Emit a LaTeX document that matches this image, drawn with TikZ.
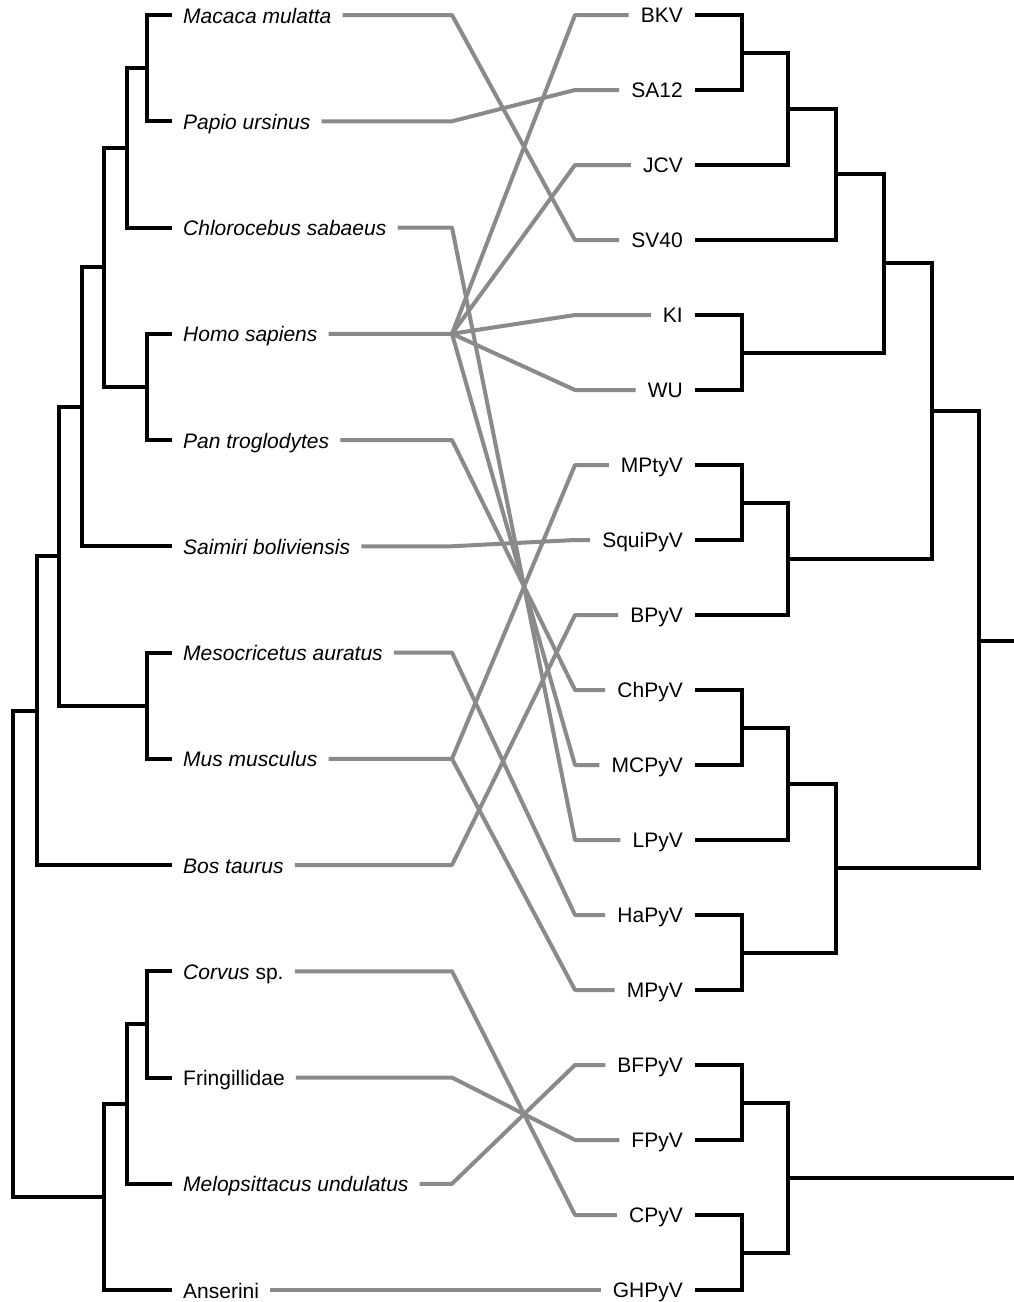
\documentclass[tikz,border=0pt]{standalone}
\usepackage{fontspec}
\setmainfont{Liberation Sans}
\definecolor{lk}{RGB}{138,138,138}
\begin{document}
\begin{tikzpicture}[x=1pt,y=-1pt,
  br/.style={line width=4pt, line join=miter, draw=black},
  con/.style={line width=4pt, draw=lk, line join=round},
  hostlab/.style={anchor=west, inner xsep=11pt, inner ysep=0pt, text height=16pt, text depth=0pt, font=\fontsize{21pt}{25pt}\selectfont\itshape},
  virlab/.style={anchor=east, inner xsep=12pt, inner ysep=0pt, text height=15pt, text depth=0pt, font=\fontsize{21pt}{25pt}\selectfont}]
\useasboundingbox (0,0) rectangle (1014,1302);
\fill[white] (0,0) rectangle (1014,1302);
% host labels
\node[hostlab] (mac) at (172,15) {Macaca mulatta};
\node[hostlab] (pap) at (172,121.25) {Papio ursinus};
\node[hostlab] (chl) at (172,227.5) {Chlorocebus sabaeus};
\node[hostlab] (hom) at (172,333.75) {Homo sapiens};
\node[hostlab] (pan) at (172,440) {Pan troglodytes};
\node[hostlab] (sai) at (172,546.25) {Saimiri boliviensis};
\node[hostlab] (mes) at (172,652.5) {Mesocricetus auratus};
\node[hostlab] (mus) at (172,758.75) {Mus musculus};
\node[hostlab] (bos) at (172,865) {Bos taurus};
\node[hostlab] (cor) at (172,971.25) {Corvus \upshape sp.};
\node[hostlab] (fri) at (172,1077.5) {\upshape Fringillidae};
\node[hostlab] (mel) at (172,1183.75) {Melopsittacus undulatus};
\node[hostlab] (ans) at (172,1290) {\upshape Anserini};
% virus labels
\node[virlab] (vBKV) at (695,15) {BKV};
\node[virlab] (vSA12) at (695,90) {SA12};
\node[virlab] (vJCV) at (695,165) {JCV};
\node[virlab] (vSV40) at (695,240) {SV40};
\node[virlab] (vKI) at (695,315) {KI};
\node[virlab] (vWU) at (695,390) {WU};
\node[virlab] (vMPtyV) at (695,465) {MPtyV};
\node[virlab] (vSquiPyV) at (695,540) {SquiPyV};
\node[virlab] (vBPyV) at (695,615) {BPyV};
\node[virlab] (vChPyV) at (695,690) {ChPyV};
\node[virlab] (vMCPyV) at (695,765) {MCPyV};
\node[virlab] (vLPyV) at (695,840) {LPyV};
\node[virlab] (vHaPyV) at (695,915) {HaPyV};
\node[virlab] (vMPyV) at (695,990) {MPyV};
\node[virlab] (vBFPyV) at (695,1065) {BFPyV};
\node[virlab] (vFPyV) at (695,1140) {FPyV};
\node[virlab] (vCPyV) at (695,1215) {CPyV};
\node[virlab] (vGHPyV) at (695,1290) {GHPyV};
% host tree nodes
\coordinate (h1) at (147,68.125);
\coordinate (h2) at (127,147.8125);
\coordinate (h3) at (147,386.875);
\coordinate (h4) at (104,267.34);
\coordinate (h5) at (82,406.8);
\coordinate (h6) at (147,705.625);
\coordinate (h7) at (59,556.2);
\coordinate (h8) at (37,710.6);
\coordinate (h9) at (147,1024.375);
\coordinate (h10) at (127,1104.06);
\coordinate (h11) at (104,1197.03);
\coordinate (h12) at (13,953.8);
\draw[br] (mac.west) -| (h1) |- (pap.west);
\draw[br] (h1) -| (h2) |- (chl.west);
\draw[br] (hom.west) -| (h3) |- (pan.west);
\draw[br] (h2) -| (h4) |- (h3);
\draw[br] (h4) -| (h5) |- (sai.west);
\draw[br] (mes.west) -| (h6) |- (mus.west);
\draw[br] (h5) -| (h7) |- (h6);
\draw[br] (h7) -| (h8) |- (bos.west);
\draw[br] (cor.west) -| (h9) |- (fri.west);
\draw[br] (h9) -| (h10) |- (mel.west);
\draw[br] (h10) -| (h11) |- (ans.west);
\draw[br] (h8) -| (h12) |- (h11);
% virus tree nodes
\coordinate (v1) at (742,52.5);
\coordinate (v2) at (788,108.75);
\coordinate (v3) at (836,174.375);
\coordinate (v4) at (742,352.5);
\coordinate (v5) at (884,263.44);
\coordinate (v6) at (742,502.5);
\coordinate (v7) at (788,558.75);
\coordinate (v8) at (932,411.09);
\coordinate (v9) at (742,727.5);
\coordinate (v10) at (788,783.75);
\coordinate (v11) at (742,952.5);
\coordinate (v12) at (836,868.125);
\coordinate (v13) at (979,640.5);
\coordinate (v14) at (742,1102.5);
\coordinate (v15) at (742,1252.5);
\coordinate (v16) at (788,1177.5);
\coordinate (redge) at (1018,0);
\draw[br] (vBKV.east) -| (v1) |- (vSA12.east);
\draw[br] (v1) -| (v2) |- (vJCV.east);
\draw[br] (v2) -| (v3) |- (vSV40.east);
\draw[br] (vKI.east) -| (v4) |- (vWU.east);
\draw[br] (v3) -| (v5) |- (v4);
\draw[br] (vMPtyV.east) -| (v6) |- (vSquiPyV.east);
\draw[br] (v6) -| (v7) |- (vBPyV.east);
\draw[br] (v5) -| (v8) |- (v7);
\draw[br] (vChPyV.east) -| (v9) |- (vMCPyV.east);
\draw[br] (v9) -| (v10) |- (vLPyV.east);
\draw[br] (vHaPyV.east) -| (v11) |- (vMPyV.east);
\draw[br] (v10) -| (v12) |- (v11);
\draw[br] (v8) -| (v13) |- (v12);
\draw[br] (v13) -- (v13 -| redge);
\draw[br] (vBFPyV.east) -| (v14) |- (vFPyV.east);
\draw[br] (vCPyV.east) -| (v15) |- (vGHPyV.east);
\draw[br] (v14) -| (v16) |- (v15);
\draw[br] (v16) -- (v16 -| redge);
% bend coordinates
\coordinate (Lmac) at (452,15);
\coordinate (Lpap) at (452,121.25);
\coordinate (Lchl) at (452,227.5);
\coordinate (Lhom) at (452,333.75);
\coordinate (Lpan) at (452,440);
\coordinate (Lsai) at (452,546.25);
\coordinate (Lmes) at (452,652.5);
\coordinate (Lmus) at (452,758.75);
\coordinate (Lbos) at (452,865);
\coordinate (Lcor) at (452,971.25);
\coordinate (Lfri) at (452,1077.5);
\coordinate (Lmel) at (452,1183.75);
\coordinate (Lans) at (452,1290);
\coordinate (RBKV) at (575,15);
\coordinate (RSA12) at (575,90);
\coordinate (RJCV) at (575,165);
\coordinate (RSV40) at (575,240);
\coordinate (RKI) at (575,315);
\coordinate (RWU) at (575,390);
\coordinate (RMPtyV) at (575,465);
\coordinate (RSquiPyV) at (575,540);
\coordinate (RBPyV) at (575,615);
\coordinate (RChPyV) at (575,690);
\coordinate (RMCPyV) at (575,765);
\coordinate (RLPyV) at (575,840);
\coordinate (RHaPyV) at (575,915);
\coordinate (RMPyV) at (575,990);
\coordinate (RBFPyV) at (575,1065);
\coordinate (RFPyV) at (575,1140);
\coordinate (RCPyV) at (575,1215);
\coordinate (RGHPyV) at (575,1290);
% associations
\draw[con] (mac.east) -- (Lmac) -- (RSV40) -- (vSV40.west);
\draw[con] (pap.east) -- (Lpap) -- (RSA12) -- (vSA12.west);
\draw[con] (chl.east) -- (Lchl) -- (RLPyV) -- (vLPyV.west);
\draw[con] (hom.east) -- (Lhom) -- (RBKV) -- (vBKV.west);
\draw[con] (Lhom) -- (RJCV) -- (vJCV.west);
\draw[con] (Lhom) -- (RKI) -- (vKI.west);
\draw[con] (Lhom) -- (RWU) -- (vWU.west);
\draw[con] (Lhom) -- (RMCPyV) -- (vMCPyV.west);
\draw[con] (pan.east) -- (Lpan) -- (RChPyV) -- (vChPyV.west);
\draw[con] (sai.east) -- (Lsai) -- (RSquiPyV) -- (vSquiPyV.west);
\draw[con] (mes.east) -- (Lmes) -- (RHaPyV) -- (vHaPyV.west);
\draw[con] (mus.east) -- (Lmus) -- (RMPtyV) -- (vMPtyV.west);
\draw[con] (Lmus) -- (RMPyV) -- (vMPyV.west);
\draw[con] (bos.east) -- (Lbos) -- (RBPyV) -- (vBPyV.west);
\draw[con] (cor.east) -- (Lcor) -- (RCPyV) -- (vCPyV.west);
\draw[con] (fri.east) -- (Lfri) -- (RFPyV) -- (vFPyV.west);
\draw[con] (mel.east) -- (Lmel) -- (RBFPyV) -- (vBFPyV.west);
\draw[con] (ans.east) -- (Lans) -- (RGHPyV) -- (vGHPyV.west);
\end{tikzpicture}
\end{document}
